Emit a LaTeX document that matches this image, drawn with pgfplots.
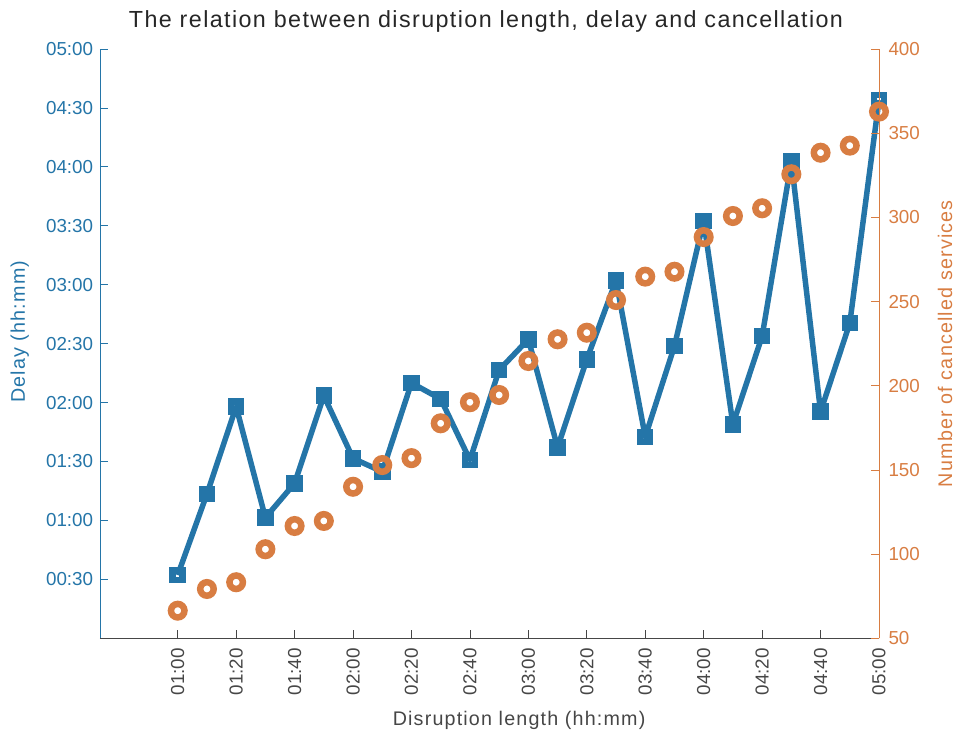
\documentclass[border=0pt]{standalone}
\usepackage{pgfplots}
\pgfplotsset{compat=1.18}
\usepackage{fontspec}
\setmainfont{Liberation Sans}
\newfontfamily\lsfont[LetterSpace=6]{Liberation Sans}
\definecolor{mblue}{RGB}{36,117,168}
\definecolor{morange}{RGB}{216,125,66}
\definecolor{mgray}{RGB}{70,70,70}
\definecolor{mtitle}{RGB}{38,38,38}

\pgfplotstableread{
x delay
60 32.2
70 73.5
80 117.9
90 61.4
100 78.9
110 123.5
120 91.6
130 84.8
140 130.0
150 121.8
160 90.8
170 136.6
180 152.2
190 97.2
200 142.0
210 182.1
220 102.6
230 148.8
240 212.5
250 108.9
260 153.8
270 242.6
280 115.4
290 160.4
300 274.0
}\delaytable

\pgfplotstableread{
x cancel
60 66.4
70 79.3
80 83.3
90 102.9
100 116.7
110 119.7
120 140.0
130 152.9
140 157.0
150 177.7
160 190.2
170 194.5
180 214.7
190 227.6
200 231.5
210 250.9
220 264.8
230 267.7
240 288.3
250 300.8
260 305.4
270 325.6
280 338.4
290 342.6
300 362.8
}\canceltable

\begin{document}
\begin{tikzpicture}
\begin{axis}[
  scale only axis, width=779bp, height=589.3bp,
  xmin=33.4, xmax=300, ymin=0, ymax=300,
  clip=false,
  axis x line*=bottom, axis y line*=left,
  x axis line style={draw=mgray, line width=0.8bp, -},
  y axis line style={draw=mblue, line width=0.8bp, -},
  xtick={60,80,...,300},
  xticklabels={01:00,01:20,01:40,02:00,02:20,02:40,03:00,03:20,03:40,04:00,04:20,04:40,05:00},
  ytick={30,60,...,300},
  yticklabels={00:30,01:00,01:30,02:00,02:30,03:00,03:30,04:00,04:30,05:00},
  tick align=inside,
  major tick length=8bp,
  x tick style={draw=mgray, line width=0.8bp},
  y tick style={draw=mblue, line width=0.8bp},
  xticklabel style={rotate=90, anchor=east, inner sep=0pt, text=mgray,
    font=\fontsize{18.8bp}{22bp}\selectfont},
  xticklabel shift=9.7bp,
  yticklabel style={anchor=east, inner sep=0pt, xshift=-6.7bp, text=mblue,
    font=\fontsize{18.8bp}{22bp}\selectfont},
  title={The relation between disruption length, delay and cancellation},
  title style={at={(axis description cs:0.4955,1)}, anchor=base, yshift=16bp,
    inner sep=0pt, text=mtitle, font=\fontsize{23.3bp}{28bp}\lsfont},
  xlabel={Disruption length (hh:mm)},
  xlabel style={at={(axis description cs:0.538,0)}, anchor=base, yshift=-87bp,
    inner sep=0pt, text=mgray, font=\fontsize{19.7bp}{24bp}\lsfont},
  ylabel={Delay (hh:mm)},
  ylabel style={at={(axis description cs:-0.0963,0.52)}, rotate=0, anchor=base,
    inner sep=0pt, text=mblue, font=\fontsize{19.7bp}{24bp}\lsfont},
]
\addplot[mblue, line width=5.5bp, line join=round, mark=square, mark size=5bp,
  mark options={solid, line width=6.5bp, line join=miter, fill=none}] table[x=x, y=delay] {\delaytable};
\end{axis}
\begin{axis}[
  scale only axis, width=779bp, height=589.3bp,
  xmin=33.4, xmax=300, ymin=50, ymax=400,
  clip=false,
  axis x line=none, axis y line*=right,
  y axis line style={draw=morange, line width=0.8bp, -},
  ytick={50,100,...,400},
  tick align=inside,
  major tick length=8bp,
  y tick style={draw=morange, line width=0.8bp},
  /pgf/number format/assume math mode=true,
  yticklabel style={anchor=west, inner sep=0pt, xshift=9.3bp, text=morange,
    font=\fontsize{18.8bp}{22bp}\selectfont},
  ylabel={Number of cancelled services},
  ylabel style={at={(axis description cs:1.0937,0.5)}, rotate=0, anchor=base,
    inner sep=0pt, text=morange, font=\fontsize{19.7bp}{24bp}\lsfont},
]
\addplot[only marks, morange, mark=o, mark size=6.75bp,
  mark options={solid, line width=6.5bp, fill=none}] table[x=x, y=cancel] {\canceltable};
\end{axis}
\pgfresetboundingbox
\path[use as bounding box] (-100bp,-94.7bp) rectangle (859bp,638.3bp);
\end{tikzpicture}
\end{document}
